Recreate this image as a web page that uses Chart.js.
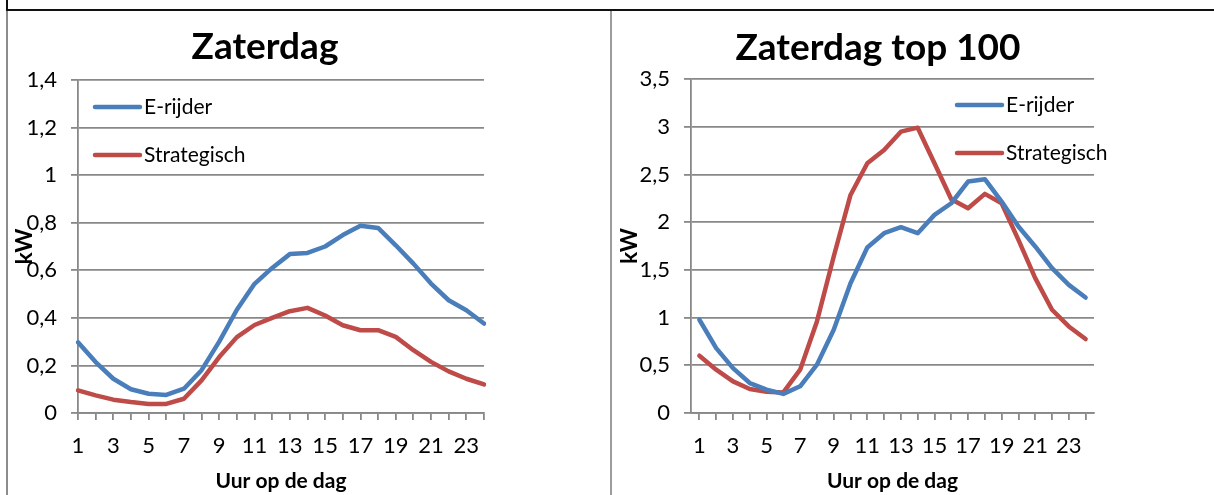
<!DOCTYPE html>
<html>
<head>
<meta charset="utf-8">
<script src="https://cdn.jsdelivr.net/npm/chart.js@4/dist/chart.umd.min.js"></script>
<style>
  body { margin: 0; background: #fff; width: 1214px; height: 495px; overflow: hidden; position: relative; }
  .line { position: absolute; }
  canvas { position: absolute; }
</style>
</head>
<body>
<div class="line" style="left:6px;top:9px;width:1208px;height:2px;background:#111;"></div>
<div class="line" style="left:6px;top:0;width:2px;height:10px;background:#111;"></div>
<div class="line" style="left:6px;top:11px;width:2px;height:484px;background:#8c8c8c;"></div>
<div class="line" style="left:610px;top:11px;width:2px;height:484px;background:#9c9c9c;"></div>
<canvas id="satChart" width="601" height="483" style="left:9px;top:12px;"></canvas>
<canvas id="topChart" width="601" height="483" style="left:613px;top:12px;"></canvas>

<script>
    // hours of the day
    const hours = [1, 2, 3, 4, 5, 6, 7, 8, 9, 10, 11, 12, 13, 14, 15, 16, 17, 18, 19, 20, 21, 22, 23, 24];

    // Zaterdag (kW)
    const satERijder = [0.297, 0.214, 0.144, 0.10, 0.081, 0.076, 0.102, 0.18, 0.30, 0.434, 0.543, 0.61,
        0.668, 0.673, 0.70, 0.748, 0.787, 0.778, 0.705, 0.628, 0.544, 0.474, 0.432, 0.376];
    const satStrategisch = [0.095, 0.074, 0.056, 0.046, 0.038, 0.038, 0.06, 0.137, 0.235, 0.319, 0.37, 0.40,
        0.428, 0.442, 0.41, 0.369, 0.348, 0.348, 0.32, 0.264, 0.215, 0.175, 0.144, 0.12];

    // Zaterdag top 100 (kW)
    const topERijder = [0.977, 0.68, 0.47, 0.314, 0.244, 0.20, 0.28, 0.506, 0.872, 1.36, 1.734, 1.884,
        1.947, 1.884, 2.076, 2.198, 2.425, 2.45, 2.216, 1.954, 1.745, 1.518, 1.343, 1.21];
    const topStrategisch = [0.60, 0.454, 0.331, 0.251, 0.223, 0.216, 0.454, 0.96, 1.64, 2.285, 2.617, 2.756,
        2.948, 2.99, 2.617, 2.24, 2.146, 2.296, 2.198, 1.814, 1.413, 1.082, 0.907, 0.775];

    const seriesNames = ["E-rijder", "Strategisch"];
    const seriesColors = ["#4a7ebb", "#be4b48"];

    const FONT = "Lato, 'Open Sans', sans-serif";
    const gridGray = "#888888";

    Chart.defaults.color = "#000";
    Chart.defaults.font.family = FONT;

    // title, rotated "kW" and the legend, placed like the Excel original
    const excelDecor = {
        id: 'excelDecor',
        afterDraw(chart, args, opts) {
            const ctx = chart.ctx;
            const area = chart.chartArea;
            ctx.save();
            ctx.fillStyle = "#000";
            ctx.font = "bold 37px " + FONT;
            ctx.textAlign = "center";
            ctx.textBaseline = "alphabetic";
            ctx.fillText(opts.title, opts.titleX, opts.titleY);

            ctx.save();
            ctx.translate(opts.kwX, (area.top + area.bottom) / 2);
            ctx.rotate(-Math.PI / 2);
            ctx.font = "bold 23px " + FONT;
            ctx.textBaseline = "middle";
            ctx.fillText("kW", 0, 0);
            ctx.restore();

            ctx.font = "21px " + FONT;
            ctx.textAlign = "left";
            ctx.textBaseline = "middle";
            ctx.lineCap = "round";
            chart.data.datasets.forEach(function (ds, i) {
                let y = opts.legendY[i];
                ctx.strokeStyle = ds.borderColor;
                ctx.lineWidth = 4.5;
                ctx.beginPath();
                ctx.moveTo(opts.legendX, y);
                ctx.lineTo(opts.legendX + 45, y);
                ctx.stroke();
                ctx.fillStyle = "#000";
                ctx.fillText(ds.label, opts.legendX + 49, y);
            });
            ctx.restore();
        }
    };

    function makeChart(id, values, yMax, yStep, cfg) {
        return new Chart(document.getElementById(id), {
            type: 'line',
            data: {
                labels: hours,
                datasets: values.map(function (v, i) {
                    return {
                        label: seriesNames[i],
                        data: v,
                        borderColor: seriesColors[i],
                        backgroundColor: seriesColors[i],
                        borderWidth: 4.5,
                        pointRadius: 0,
                        tension: 0,
                        borderCapStyle: 'round',
                        borderJoinStyle: 'round'
                    };
                })
            },
            options: {
                responsive: false,
                animation: false,
                layout: { padding: { top: cfg.top, right: cfg.right, bottom: 0, left: 0 } },
                plugins: {
                    legend: { display: false },
                    title: { display: false },
                    tooltip: { enabled: false },
                    excelDecor: cfg.decor
                },
                scales: {
                    x: {
                        offset: cfg.offset,
                        afterFit: function (scale) { scale.height = 82; },
                        border: { color: gridGray, width: 1.8 },
                        grid: { drawOnChartArea: false, drawTicks: true, tickLength: 7, color: gridGray, lineWidth: 1.8 },
                        ticks: {
                            autoSkip: false,
                            maxRotation: 0,
                            padding: 13,
                            font: { size: 22 },
                            callback: function (value, index) {
                                return index % 2 === 0 ? this.getLabelForValue(value) : '';
                            }
                        },
                        title: {
                            display: true,
                            text: "Uur op de dag",
                            font: { size: 21, weight: 'bold' },
                            padding: { top: 0, bottom: 1 }
                        }
                    },
                    y: {
                        min: 0,
                        max: yMax,
                        afterFit: function (scale) { scale.width = cfg.yWidth; },
                        border: { color: gridGray, width: 1.8 },
                        grid: { color: gridGray, lineWidth: 1.8, tickLength: 7 },
                        ticks: {
                            stepSize: yStep,
                            padding: 14,
                            font: { size: 22 },
                            callback: function (value) {
                                return String(+value.toFixed(2)).replace('.', ',');
                            }
                        }
                    }
                }
            },
            plugins: [excelDecor]
        });
    }

    makeChart("satChart", [satERijder, satStrategisch], 1.4, 0.2, {
        offset: false, top: 68, right: 126, yWidth: 69,
        decor: { title: "Zaterdag", titleX: 256, titleY: 47, kwX: 16, legendX: 86, legendY: [95, 143] }
    });

    makeChart("topChart", [topERijder, topStrategisch], 3.5, 0.5, {
        offset: true, top: 67, right: 120, yWidth: 78,
        decor: { title: "Zaterdag top 100", titleX: 265, titleY: 48, kwX: 17, legendX: 344, legendY: [93, 141] }
    });
</script>
</body>
</html>
